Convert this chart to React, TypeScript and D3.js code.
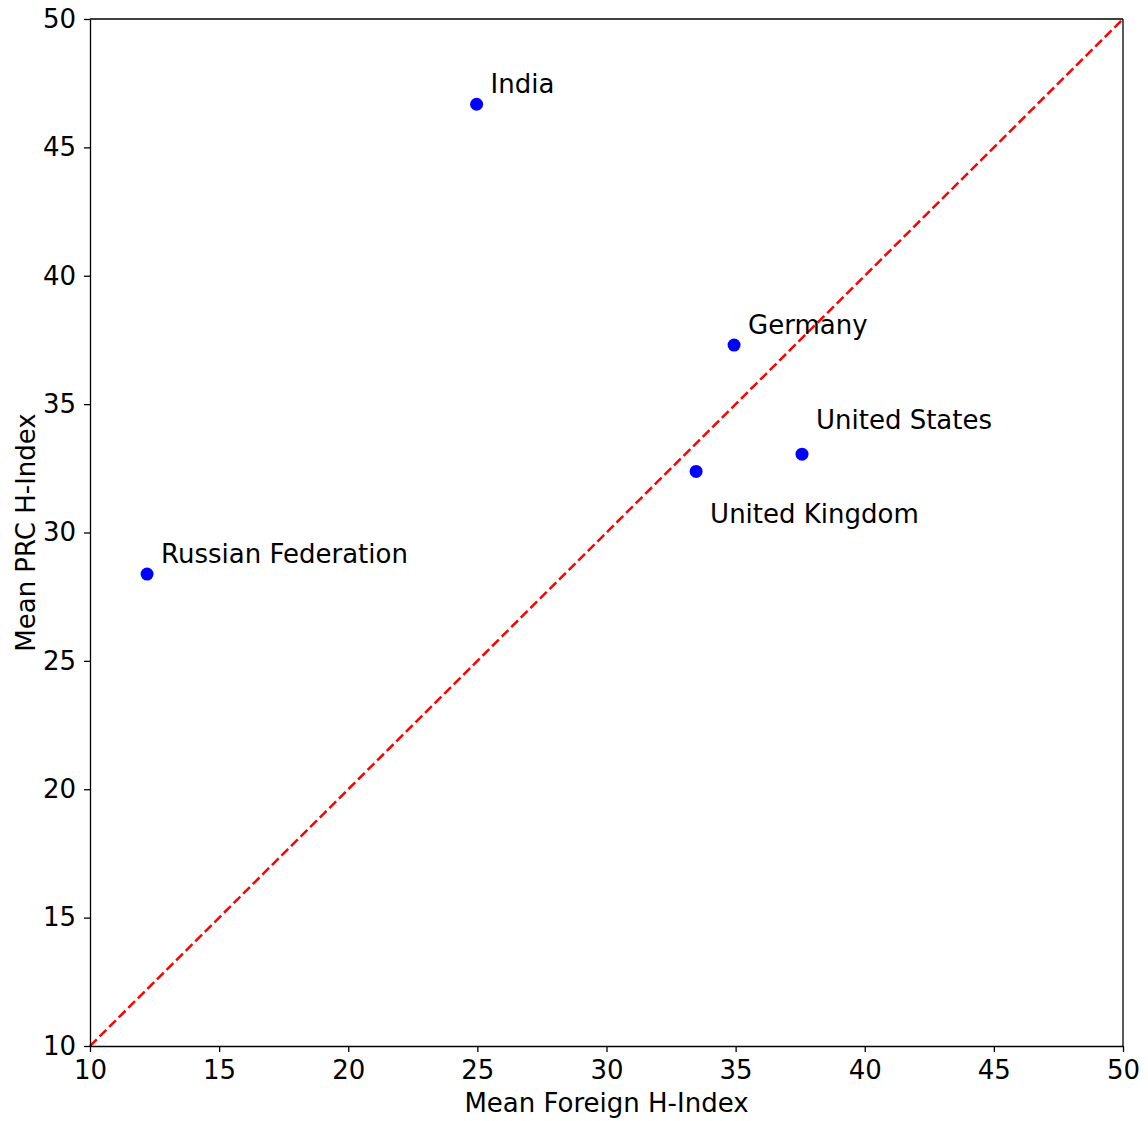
import React, { useRef, useEffect } from "react";
import * as d3 from "d3";

// countries and their mean h-index values
const countries = ["India", "Germany", "United States", "United Kingdom", "Russian Federation"];
const foreignH = [24.97, 34.94, 37.57, 33.47, 12.21];
const prcH = [46.68, 37.3, 33.05, 32.38, 28.38];
const ticks = [10, 15, 20, 25, 30, 35, 40, 45, 50];

// label offsets in px (dx, dy of baseline)
const labelOffsets: Record<string, [number, number]> = {
  India: [14, -11],
  Germany: [14, -11],
  "United States": [14, -25],
  "United Kingdom": [14, 52],
  "Russian Federation": [14, -11],
};

const App = () => {
  const svgRef = useRef<SVGSVGElement>(null);

  useEffect(() => {
    d3.select(svgRef.current).selectAll("*").remove();

    const width = 1148;
    const height = 1121;
    const margin = { top: 19, right: 25, bottom: 75, left: 90 };
    const font = "DejaVu Sans, sans-serif";
    const fontSize = "26px";

    const svg = d3
      .select(svgRef.current)
      .attr("width", width)
      .attr("height", height);

    const x = d3.scaleLinear().domain([10, 50]).range([margin.left, width - margin.right]);
    const y = d3.scaleLinear().domain([10, 50]).range([height - margin.bottom, margin.top]);

    // Diagonal reference line
    svg
      .append("line")
      .attr("x1", x(10))
      .attr("y1", y(10))
      .attr("x2", x(50))
      .attr("y2", y(50))
      .attr("stroke", "#ff0000")
      .attr("stroke-width", 2.5)
      .attr("stroke-dasharray", "9.5,4");

    // Points
    const data = countries.map((c, i) => ({ name: c, fx: foreignH[i], py: prcH[i] }));

    svg
      .selectAll(".pt")
      .data(data)
      .enter()
      .append("circle")
      .attr("cx", (d) => x(d.fx))
      .attr("cy", (d) => y(d.py))
      .attr("r", 6.5)
      .attr("fill", "#0000ff");

    svg
      .selectAll(".lbl")
      .data(data)
      .enter()
      .append("text")
      .attr("x", (d) => x(d.fx) + labelOffsets[d.name][0])
      .attr("y", (d) => y(d.py) + labelOffsets[d.name][1])
      .style("font-family", font)
      .style("font-size", fontSize)
      .attr("fill", "#000")
      .text((d) => d.name);

    // Axes
    const xAxis = svg
      .append("g")
      .attr("transform", `translate(0, ${y(10)})`)
      .call(d3.axisBottom(x).tickValues(ticks).tickSize(6).tickPadding(9).tickSizeOuter(0));
    const yAxis = svg
      .append("g")
      .attr("transform", `translate(${x(10)}, 0)`)
      .call(d3.axisLeft(y).tickValues(ticks).tickSize(6).tickPadding(8).tickSizeOuter(0));

    [xAxis, yAxis].forEach((g) => {
      g.select(".domain").attr("stroke", "#000").attr("stroke-width", 1.3);
      g.selectAll(".tick line").attr("stroke", "#000").attr("stroke-width", 1.3);
      g.selectAll(".tick text")
        .style("font-family", font)
        .style("font-size", fontSize)
        .attr("fill", "#000");
    });

    // Top and right frame
    svg
      .append("line")
      .attr("x1", x(10))
      .attr("x2", x(50))
      .attr("y1", y(50))
      .attr("y2", y(50))
      .attr("stroke", "#000")
      .attr("stroke-width", 1.3);
    svg
      .append("line")
      .attr("x1", x(50))
      .attr("x2", x(50))
      .attr("y1", y(50))
      .attr("y2", y(10))
      .attr("stroke", "#000")
      .attr("stroke-width", 1.3);

    // Axis titles
    svg
      .append("text")
      .attr("x", (x(10) + x(50)) / 2)
      .attr("y", 1112)
      .attr("text-anchor", "middle")
      .style("font-family", font)
      .style("font-size", fontSize)
      .text("Mean Foreign H-Index");

    svg
      .append("text")
      .attr("transform", `translate(35, ${(y(10) + y(50)) / 2}) rotate(-90)`)
      .attr("text-anchor", "middle")
      .style("font-family", font)
      .style("font-size", fontSize)
      .text("Mean PRC H-Index");
  }, []);

  return (
    <svg
      ref={svgRef}
      style={{ position: "absolute", left: 0, top: 0, display: "block" }}
    ></svg>
  );
};

export default App;
